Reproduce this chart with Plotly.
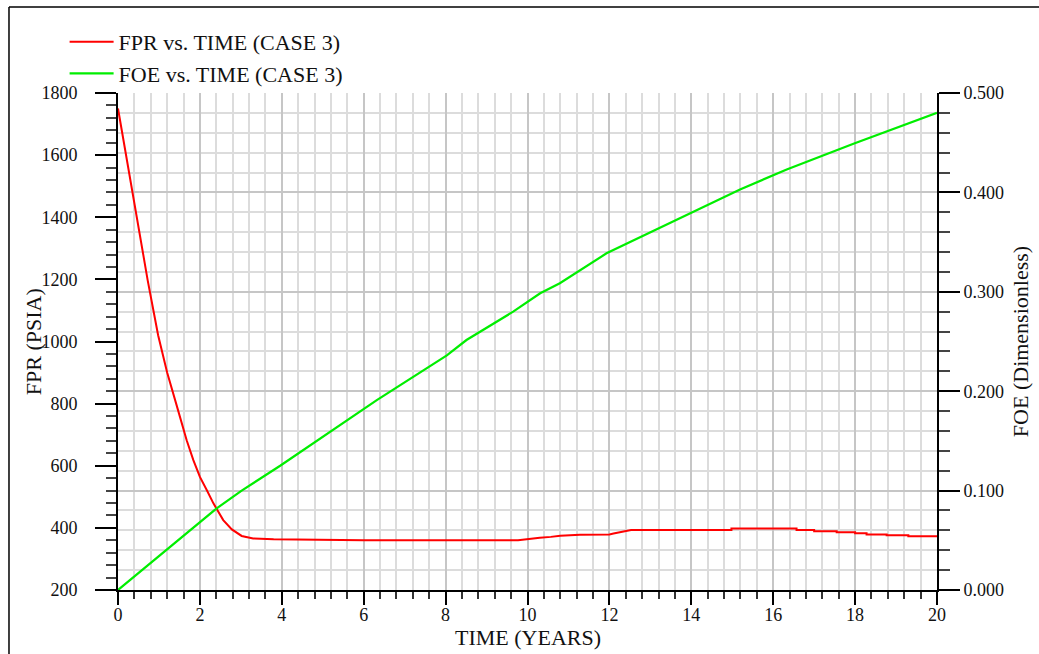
import plotly.graph_objects as go

# Field pressure (FPR, psia) vs. time (years)
fpr_time = [0.0, 0.47, 0.725, 0.98, 1.2, 1.42, 1.677, 1.84, 2.0, 2.17, 2.33,
            2.57, 2.78, 3.02, 3.3, 3.8, 6.0, 9.77, 10.0, 10.3, 10.57, 10.8, 11.28,
            12.0, 12.1, 12.53, 14.98, 14.98, 16.57, 16.57, 17.0, 17.0, 17.55, 17.55,
            18.0, 18.0, 18.28, 18.28, 18.77, 18.77, 19.3, 19.3, 20.0]
fpr_psia = [1750, 1395, 1197, 1020, 900, 800, 682, 618, 564, 521, 479,
            425, 395, 374, 366, 363, 360, 360, 364, 368, 371, 375, 378,
            379, 382, 393, 393, 398, 398, 393, 393, 389, 389, 386,
            386, 382.5, 382.5, 379, 379, 376, 376, 373, 373]

# Field oil recovery efficiency (FOE) vs. time (years)
foe_time = [0.0, 1.0, 2.04, 2.41, 3.02, 3.96, 6.32, 8.03, 8.51, 9.65, 10.31,
            10.79, 11.93, 14.05, 14.7, 15.19, 16.33, 17.96, 20.0]
foe_frac = [0.0, 0.0344, 0.0704, 0.0822, 0.1, 0.125, 0.191, 0.236, 0.2515, 0.280,
            0.2985, 0.3086, 0.3387, 0.3806, 0.394, 0.403, 0.423, 0.449, 0.480]

font_family = "Liberation Serif, Times New Roman, serif"

fig = go.Figure()
fig.add_trace(go.Scatter(x=fpr_time, y=fpr_psia, mode="lines",
                         name="FPR vs. TIME (CASE 3)",
                         line=dict(color="#ff0000", width=2), yaxis="y"))
fig.add_trace(go.Scatter(x=foe_time, y=foe_frac, mode="lines",
                         name="FOE vs. TIME (CASE 3)",
                         line=dict(color="#00ee00", width=2.2), yaxis="y2"))

fig.update_layout(
    width=1039, height=654,
    margin=dict(l=118, r=102, t=93, b=64),
    paper_bgcolor="white", plot_bgcolor="white",
    font=dict(family=font_family, size=18, color="#111111"),
    showlegend=True,
    legend=dict(x=-0.0652, y=1.145, xanchor="left", yanchor="top",
                font=dict(size=22, color="#111111"), bgcolor="rgba(0,0,0,0)",
                tracegroupgap=0, itemwidth=44),
    xaxis=dict(
        range=[0, 20], dtick=2, tick0=0, showline=True, linecolor="black",
        linewidth=2, ticks="outside", ticklen=13, tickwidth=2, tickcolor="black",
        showgrid=True, gridcolor="#c6c6c6", gridwidth=2, zeroline=False,
        automargin=False, ticklabelstandoff=-6,
        minor=dict(dtick=0.4, tick0=0, ticks="outside", ticklen=7, tickwidth=1.5,
                   tickcolor="#333333", showgrid=True, gridcolor="#dcdcdc",
                   gridwidth=1.5),
        tickfont=dict(size=18),
    ),
    yaxis=dict(
        range=[200, 1800], dtick=200, tick0=200, tickformat="d",
        showline=True, linecolor="black", linewidth=2, ticks="outside",
        ticklen=21, tickwidth=2, tickcolor="black", showgrid=False,
        zeroline=False, automargin=False, ticklabelstandoff=14,
        minor=dict(dtick=40, tick0=200, ticks="outside", ticklen=10,
                   tickwidth=1.5, tickcolor="#444444", showgrid=False),
        tickfont=dict(size=18),
    ),
    yaxis2=dict(
        range=[0, 0.5], dtick=0.1, tick0=0, tickformat=".3f",
        overlaying="y", side="right", anchor="x", automargin=False,
        showline=True, linecolor="black", linewidth=2, ticks="outside",
        ticklen=21, tickwidth=2, tickcolor="black",
        showgrid=True, gridcolor="#c6c6c6", gridwidth=2, zeroline=False,
        minor=dict(dtick=0.02, tick0=0, ticks="outside", ticklen=11,
                   tickwidth=1.5, tickcolor="#444444", showgrid=True,
                   gridcolor="#dcdcdc", gridwidth=1.5),
        title=dict(text="FOE (Dimensionless)", font=dict(size=22), standoff=10),
        tickfont=dict(size=18),
    ),
)

# Axis titles for time and pressure
fig.add_annotation(text="TIME (YEARS)", xref="paper", yref="paper",
                   x=0.5, y=-0.095, xanchor="center", yanchor="middle",
                   showarrow=False, font=dict(size=22, color="#111111"))
fig.add_annotation(text="FPR (PSIA)", textangle=-90, xref="paper", yref="paper",
                   x=-0.103, y=0.5, xanchor="center", yanchor="middle",
                   showarrow=False, font=dict(size=22, color="#111111"))

# Frame lines along the top and left edge of the page
fig.add_shape(type="line", xref="paper", yref="paper",
              x0=-0.1331, x1=1.13, y0=1.173, y1=1.173,
              line=dict(color="black", width=1.5))
fig.add_shape(type="line", xref="paper", yref="paper",
              x0=-0.1331, x1=-0.1331, y0=1.173, y1=-0.14,
              line=dict(color="black", width=1.5))

fig.write_html("out.html")
